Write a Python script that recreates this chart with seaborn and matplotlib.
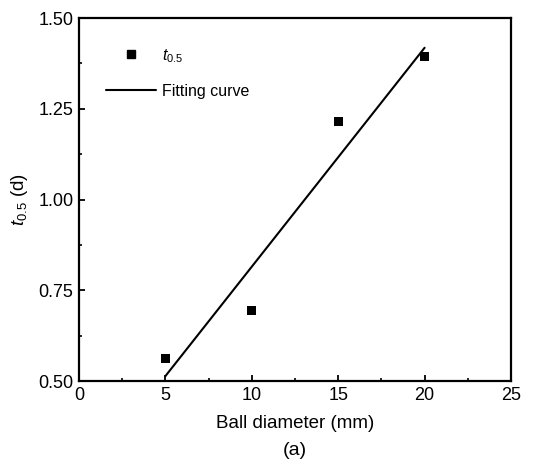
import numpy as np
import pandas as pd
import matplotlib
matplotlib.use("Agg")
import matplotlib.pyplot as plt
import seaborn as sns
from matplotlib.ticker import MultipleLocator
from matplotlib.lines import Line2D

ball_diameter = [5, 10, 15, 20]
t05 = [0.561, 0.695, 1.214, 1.393]

x_ticks = [0, 5, 10, 15, 20, 25]
y_ticks = [0.50, 0.75, 1.00, 1.25, 1.50]

sns.set_theme(style="ticks")
plt.rcParams['font.family'] = ['Liberation Sans', 'DejaVu Sans']
plt.rcParams['mathtext.fontset'] = 'custom'
plt.rcParams['mathtext.it'] = 'Liberation Sans:italic'
plt.rcParams['mathtext.rm'] = 'Liberation Sans'
plt.rcParams['text.color'] = 'black'
plt.rcParams['axes.labelcolor'] = 'black'

df = pd.DataFrame({"d": ball_diameter, "t": t05})

fig = plt.figure(figsize=(5.43, 4.61), dpi=100)
ax = fig.add_axes([79/543, 1 - 381/461, (511-79)/543, (381-18)/461])

sns.regplot(data=df, x="d", y="t", ax=ax, ci=None, truncate=True, marker="s",
            scatter_kws=dict(s=42, color="black", edgecolors="none", alpha=1, zorder=3),
            line_kws=dict(color="black", lw=1.5))

ax.set_xlim(0, 25)
ax.set_ylim(0.5, 1.5)
ax.set_xticks(x_ticks)
ax.set_yticks(y_ticks)
ax.set_xticklabels([str(v) for v in x_ticks])
ax.set_yticklabels([f"{v:.2f}" for v in y_ticks])
ax.xaxis.set_minor_locator(MultipleLocator(2.5))
ax.yaxis.set_minor_locator(MultipleLocator(0.125))
ax.tick_params(which="major", direction="in", length=4, width=1.3, labelsize=13,
               colors="black", labelcolor="black", pad=4)
ax.tick_params(which="minor", direction="in", length=2.5, width=1.2, colors="black")
ax.tick_params(top=False, right=False, which="both")
for s in ax.spines.values():
    s.set_linewidth(1.6)
    s.set_color("black")

ax.set_xlabel("Ball diameter (mm)", fontsize=13.5, labelpad=8, color="black")
ax.set_ylabel("$t_{0.5}$ (d)", fontsize=13.5, labelpad=6, color="black")
fig.text((79+511)/2/543, 1 - 450/461, "(a)", fontsize=14, ha="center", va="center", color="black")

handles = [Line2D([], [], marker="s", ls="none", color="black", markersize=6),
           Line2D([], [], color="black", lw=1.5)]
labels = ["$t_{0.5}$", "Fitting curve"]
ax.legend(handles, labels, loc="upper left", bbox_to_anchor=(0.03, 0.96), frameon=False,
          fontsize=11.5, handlelength=3.1, labelspacing=1.2, handletextpad=0.4,
          labelcolor="black")

fig.savefig("out.png", dpi=100)
